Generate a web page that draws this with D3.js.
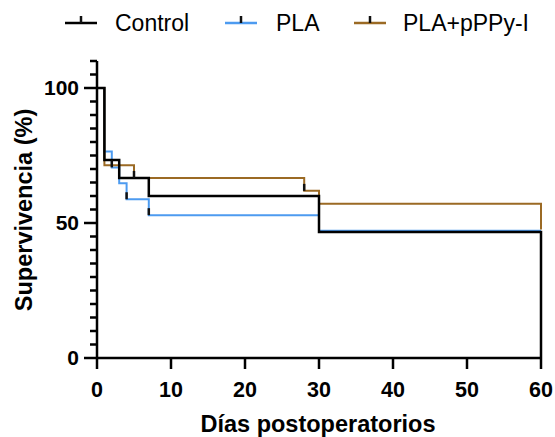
<!DOCTYPE html>
<html>
<head>
<meta charset="utf-8">
<script src="https://cdn.jsdelivr.net/npm/d3@7"></script>
<style>
  body { margin: 0; background: #fff; }
  text { font-family: "Liberation Sans", Arial, sans-serif; }
</style>
</head>
<body>
<div id="chart"></div>
<script>
// survival steps: [day, % surviving]
var controlSteps = [[0,100],[1,73.3],[3,66.7],[7,60],[30,46.7],[60,0]];
var plaSteps = [[0,100],[1,76.5],[2,70.6],[3,64.7],[4,58.8],[7,52.9],[30,47.1],[60,47.1]];
var pppySteps = [[0,100],[1,71.4],[5,66.7],[28,61.9],[30,57.1],[60,47.6]];

// censor marks
var plaCensor = [[2,70.6],[4,58.8],[7,52.9]];
var pppyCensor = [[5,66.7],[28,61.9]];

var seriesNames = ["Control", "PLA", "PLA+pPPy-I"];
var seriesColors = ["#000000", "#4d9bf0", "#9b6a24"];
var xTicks = [0,10,20,30,40,50,60];
var yTicks = [0,50,100];

var width = 555, height = 437;
var svg = d3.select("#chart").append("svg")
  .attr("width", width)
  .attr("height", height);

var x = d3.scaleLinear().domain([0,60]).range([97,541]);
var y = d3.scaleLinear().domain([0,110]).range([358,61]);

var stepLine = d3.line()
  .x(function(d){ return x(d[0]); })
  .y(function(d){ return y(d[1]); })
  .curve(d3.curveStepAfter);

var series = [
  {name: seriesNames[1], color: seriesColors[1], steps: plaSteps, censor: plaCensor, w: 2},
  {name: seriesNames[2], color: seriesColors[2], steps: pppySteps, censor: pppyCensor, w: 2},
  {name: seriesNames[0], color: seriesColors[0], steps: controlSteps, censor: [], w: 2.5}
];

series.forEach(function(s){
  svg.append("path")
    .attr("d", stepLine(s.steps))
    .attr("fill", "none")
    .attr("stroke", s.color)
    .attr("stroke-width", s.w);
});

// censor ticks
series.forEach(function(s){
  svg.selectAll(null)
    .data(s.censor)
    .enter().append("line")
    .attr("x1", function(d){ return x(d[0]); })
    .attr("x2", function(d){ return x(d[0]); })
    .attr("y1", function(d){ return y(d[1]); })
    .attr("y2", function(d){ return y(d[1]) - 7; })
    .attr("stroke", "#111")
    .attr("stroke-width", 2.5);
});

// y axis
var yMinor = d3.range(0, 111, 5);
svg.append("g")
  .selectAll("line")
  .data(yMinor)
  .enter().append("line")
  .attr("x1", function(d){ return yTicks.indexOf(d) >= 0 ? 84 : 90; })
  .attr("x2", 97)
  .attr("y1", function(d){ return y(d); })
  .attr("y2", function(d){ return y(d); })
  .attr("stroke", "#000")
  .attr("stroke-width", 2.5);

svg.append("line")
  .attr("x1", 97).attr("x2", 97)
  .attr("y1", y(110)).attr("y2", y(0) + 1)
  .attr("stroke", "#000").attr("stroke-width", 2.5);

svg.append("g")
  .selectAll("text")
  .data(yTicks)
  .enter().append("text")
  .attr("x", 79)
  .attr("y", function(d){ return y(d); })
  .attr("dy", "0.35em")
  .attr("text-anchor", "end")
  .style("font-size", "21px")
  .style("font-weight", "bold")
  .text(function(d){ return d; });

// x axis
svg.append("line")
  .attr("x1", x(0) - 1).attr("x2", x(60) + 1)
  .attr("y1", y(0)).attr("y2", y(0))
  .attr("stroke", "#000").attr("stroke-width", 2.5);

svg.append("g")
  .selectAll("line")
  .data(xTicks)
  .enter().append("line")
  .attr("x1", function(d){ return x(d); })
  .attr("x2", function(d){ return x(d); })
  .attr("y1", y(0))
  .attr("y2", y(0) + 11)
  .attr("stroke", "#000")
  .attr("stroke-width", 2.5);

svg.append("g")
  .selectAll("text")
  .data(xTicks)
  .enter().append("text")
  .attr("x", function(d){ return x(d); })
  .attr("y", 397)
  .attr("text-anchor", "middle")
  .style("font-size", "21.5px")
  .style("font-weight", "bold")
  .text(function(d){ return d; });

// axis titles
svg.append("text")
  .attr("x", 318)
  .attr("y", 432)
  .attr("text-anchor", "middle")
  .style("font-size", "23.5px")
  .style("font-weight", "bold")
  .text("Días postoperatorios");

svg.append("text")
  .attr("transform", "translate(32,210) rotate(-90)")
  .attr("text-anchor", "middle")
  .style("font-size", "23.5px")
  .style("font-weight", "bold")
  .text("Supervivencia (%)");

// legend
var legendX = [65, 225, 354];
var legendTextX = [115, 276, 403];
var legend = svg.append("g");
seriesNames.forEach(function(name, i){
  var g = legend.append("g").attr("transform", "translate(" + legendX[i] + ",23)");
  g.append("line")
    .attr("x1", 0).attr("x2", 32)
    .attr("y1", 0).attr("y2", 0)
    .attr("stroke", seriesColors[i])
    .attr("stroke-width", 2.5);
  g.append("line")
    .attr("x1", 16).attr("x2", 16)
    .attr("y1", 0).attr("y2", -7)
    .attr("stroke", "#111")
    .attr("stroke-width", 2.5);
  legend.append("text")
    .attr("x", legendTextX[i])
    .attr("y", 23)
    .attr("dy", "0.35em")
    .style("font-size", "23px")
    .text(name);
});
</script>
</body>
</html>
